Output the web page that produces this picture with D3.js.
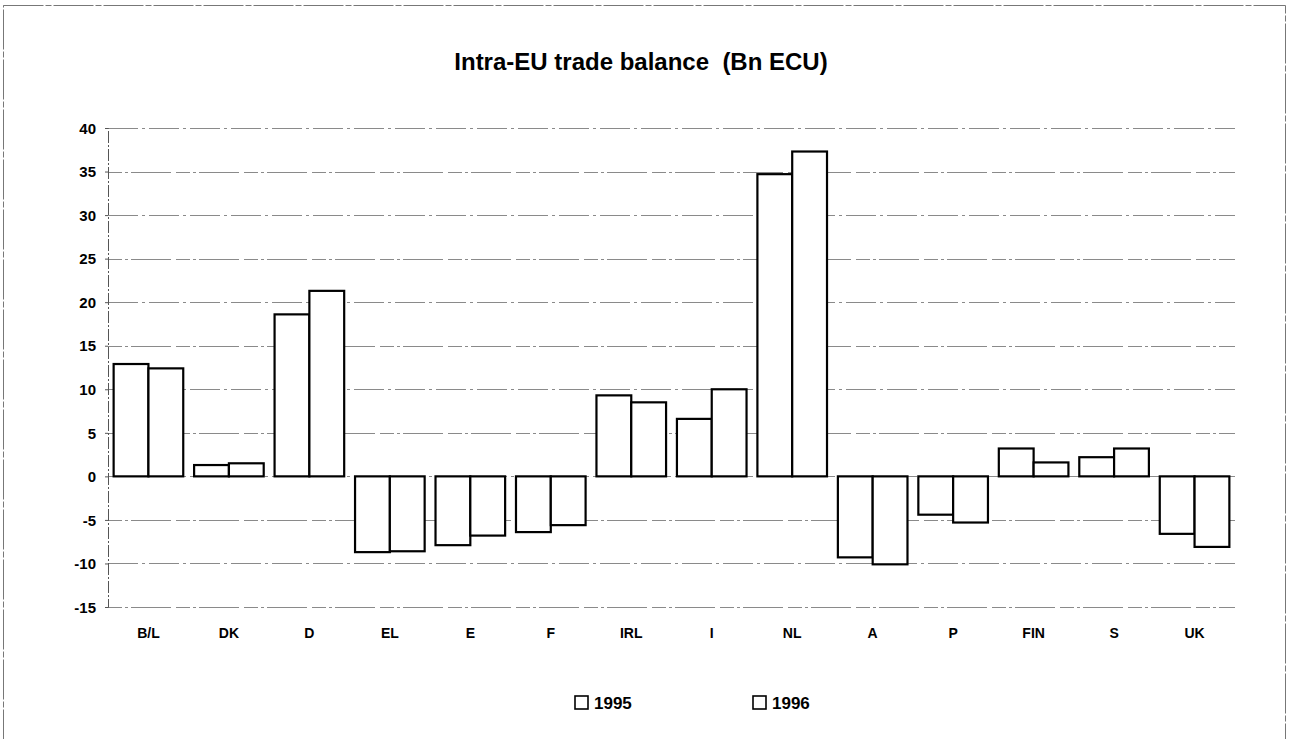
<!DOCTYPE html>
<html>
<head>
<meta charset="utf-8">
<script src="https://cdnjs.cloudflare.com/ajax/libs/d3/7.8.5/d3.min.js"></script>
<style>
  body { margin: 0; background: #fff; }
  svg text { font-family: "Liberation Sans", Arial, sans-serif; font-weight: bold; fill: #000; }
</style>
</head>
<body>
<div id="chart"></div>
<script>
var categories = ["B/L", "DK", "D", "EL", "E", "F", "IRL", "I", "NL", "A", "P", "FIN", "S", "UK"];
var series = ["1995", "1996"];
var values1995 = [12.9, 1.3, 18.6, -8.7, -7.9, -6.4, 9.3, 6.6, 34.7, -9.3, -4.4, 3.2, 2.2, -6.6];
var values1996 = [12.4, 1.5, 21.3, -8.6, -6.8, -5.6, 8.5, 10.0, 37.3, -10.1, -5.3, 1.6, 3.2, -8.1];
var yTicks = [-15, -10, -5, 0, 5, 10, 15, 20, 25, 30, 35, 40];

var W = 1290, H = 739;
var margin = { top: 128, right: 55, bottom: 132, left: 108 };
var width = W - margin.left - margin.right;
var height = H - margin.top - margin.bottom;

var svg = d3.select("#chart").append("svg")
  .attr("width", W)
  .attr("height", H);

// outer frame
svg.append("rect")
  .attr("x", 3.5).attr("y", 5.5)
  .attr("width", 1282).attr("height", 740)
  .attr("fill", "none")
  .attr("stroke", "#777")
  .attr("stroke-width", 1)
  .attr("stroke-dasharray", "40,2,6,2");

svg.append("text")
  .attr("x", 641)
  .attr("y", 70)
  .attr("text-anchor", "middle")
  .style("font-size", "24px")
  .style("white-space", "pre")
  .text("Intra-EU trade balance  (Bn ECU)");

var g = svg.append("g")
  .attr("transform", "translate(" + margin.left + "," + margin.top + ")");

var x0 = d3.scaleBand()
  .domain(categories)
  .range([0, width])
  .paddingInner(0.135)
  .paddingOuter(0.07);

var x1 = d3.scaleBand()
  .domain(series)
  .range([0, x0.bandwidth()]);

var y = d3.scaleLinear()
  .domain([-15, 40])
  .range([height, 0]);

// gridlines
g.append("g")
  .selectAll("line")
  .data(yTicks)
  .enter().append("line")
  .attr("x1", 0)
  .attr("x2", width)
  .attr("y1", function (d) { return Math.round(y(d)) + 0.5; })
  .attr("y2", function (d) { return Math.round(y(d)) + 0.5; })
  .attr("stroke", "#8a8a8a")
  .attr("stroke-width", 1)
  .attr("stroke-dasharray", function (d, i) { return i % 2 ? "30,4,3,4" : "14,3,3,3,40,5"; });

// y axis
var yAxis = d3.axisLeft(y)
  .tickValues(yTicks)
  .tickFormat(function (d) { return String(d); })
  .tickSize(3)
  .tickPadding(9);
var ya = g.append("g").call(yAxis);
ya.select(".domain").attr("stroke", "#555").attr("stroke-dasharray", "12,2,2,2");
ya.selectAll(".tick line").attr("stroke", "#555");
ya.selectAll("text").style("font-size", "15px").attr("dy", "0.35em");

var data = categories.map(function (c, i) {
  return { cat: c, vals: [{ s: "1995", v: values1995[i] }, { s: "1996", v: values1996[i] }] };
});

g.selectAll(".grp")
  .data(data)
  .enter().append("g")
  .attr("class", "grp")
  .attr("transform", function (d) { return "translate(" + x0(d.cat) + ",0)"; })
  .selectAll("rect")
  .data(function (d) { return d.vals; })
  .enter().append("rect")
  .attr("x", function (d) { return x1(d.s); })
  .attr("width", x1.bandwidth())
  .attr("y", function (d) { return y(Math.max(0, d.v)); })
  .attr("height", function (d) { return Math.abs(y(d.v) - y(0)); })
  .attr("fill", "#fff")
  .attr("stroke", "#000")
  .attr("stroke-width", 2.2);

// category labels
g.append("g")
  .selectAll("text")
  .data(categories)
  .enter().append("text")
  .attr("x", function (d) { return x0(d) + x0.bandwidth() / 2; })
  .attr("y", height + 31)
  .attr("text-anchor", "middle")
  .style("font-size", "14px")
  .text(function (d) { return d; });

// legend
var legend = svg.append("g")
  .selectAll("g")
  .data(series)
  .enter().append("g")
  .attr("transform", function (d, i) { return "translate(" + (575 + i * 178) + ",696)"; });

legend.append("rect")
  .attr("width", 13).attr("height", 13)
  .attr("fill", "#fff")
  .attr("stroke", "#000")
  .attr("stroke-width", 1.6);

legend.append("text")
  .attr("x", 19)
  .attr("y", 13)
  .style("font-size", "17px")
  .text(function (d) { return d; });
</script>
</body>
</html>
